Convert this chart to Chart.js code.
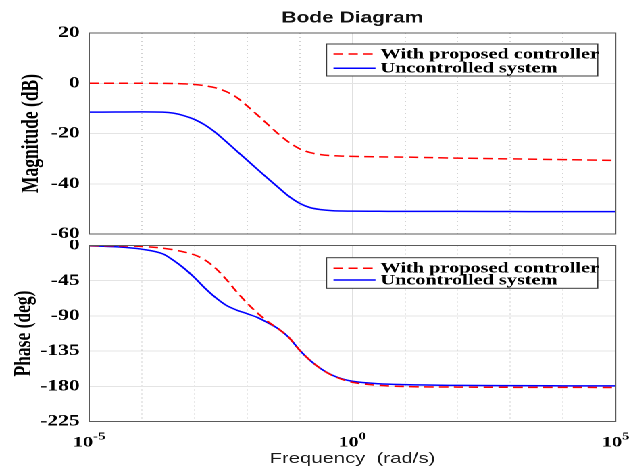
<!DOCTYPE html>
<html><head><meta charset="utf-8">
<script src="https://cdn.jsdelivr.net/npm/chart.js@4/dist/chart.umd.min.js"></script>
<style>
html,body{margin:0;padding:0;background:#fff;width:631px;height:468px;overflow:hidden;}
#wrap{position:absolute;left:0;top:0;width:467px;height:468px;transform:scaleX(1.3512);transform-origin:0 0;}
.box{position:absolute;left:0;width:467px;}
#b1{top:0;height:240px}
#b2{top:240px;height:228px}
</style></head><body>
<div id="wrap"><div class="box" id="b1"><canvas id="c1"></canvas></div><div class="box" id="b2"><canvas id="c2"></canvas></div></div>
<script>
// ---------- data ----------
const seriesNames = ['With proposed controller', 'Uncontrolled system'];

// frequency samples (rad/s) shared by all curves
const freq = [1e-5, 3.16e-5, 1e-4, 2.51e-4, 3.98e-4, 6.31e-4, 1e-3, 1.58e-3, 2.51e-3, 3.98e-3, 6.31e-3,
  1e-2, 1.58e-2, 2.51e-2, 3.98e-2, 6.31e-2, 0.1, 0.158, 0.251, 0.398, 0.631, 1, 3.16, 10, 100, 1e3, 1e4, 1e5];

// Magnitude (dB)
const magCtrl = [0, 0, 0, -0.05, -0.1, -0.25, -0.5, -1.0, -1.8, -3.3, -5.6,
  -9.0, -12.7, -16.5, -20.3, -23.6, -26.1, -27.6, -28.4, -28.8, -29.0, -29.1, -29.3, -29.4, -29.8, -30.1, -30.4, -30.7];
const magUnc = [-11.5, -11.45, -11.4, -11.5, -11.9, -12.9, -14.4, -16.6, -19.6, -23.2, -26.9,
  -30.6, -34.3, -38.0, -41.6, -45.1, -47.8, -49.5, -50.3, -50.7, -50.85, -50.9, -50.95, -51.0, -51.0, -51.05, -51.1, -51.1];

// Phase (deg)
const phCtrl = [-0.2, -0.4, -1.3, -3.4, -5.5, -8.3, -12, -18.5, -29, -43, -59,
  -73.6, -86.5, -97.5, -106.8, -118, -134, -147, -157.5, -165.5, -171, -174.9, -178.8, -180.3, -181.0, -181.3, -181.4, -181.5];
const phUnc = [-0.4, -1.6, -4.7, -10.7, -19, -29, -41, -54.5, -66.5, -76.3, -82.5,
  -87.2, -92.1, -99, -106.8, -118, -134, -147, -157.5, -165.3, -170.5, -173.6, -176.7, -177.8, -178.8, -179.2, -179.4, -179.5];

// ticks
const xGridTicks = [1e-5, 1e-4, 1e-3, 1e-2, 1e-1, 1, 1e1, 1e2, 1e3, 1e4, 1e5];
const xLabelTicks = [1e-5, 1, 1e5];
const xLabelExps = ['-5', '0', '5'];
const magTicks = [20, 0, -20, -40, -60];
const phaseTicks = [0, -45, -90, -135, -180, -225];

// ---------- styling ----------
const serif = "'Liberation Serif', 'Times New Roman', serif";
const sans = "'Liberation Sans', Arial, sans-serif";
const toPts = (xs, ys) => xs.map((x, i) => ({x: x, y: ys[i]}));

function ds(label, xs, ys, color, dash) {
  return {label, data: toPts(xs, ys), borderColor: color, backgroundColor: color,
    borderWidth: 1.5, borderDash: dash, pointRadius: 0, cubicInterpolationMode: 'monotone', fill: false};
}

function xAxis(withTitle) {
  return {
    type: 'logarithmic', min: 1e-5, max: 1e5,
    afterBuildTicks(s) { s.ticks = xGridTicks.map(v => ({value: v})); },
    ticks: {display: false},
    grid: {color: c => (c.tick && c.tick.value === 1) ? '#e0e0e0' : '#d2d2d2', lineWidth: 1, drawTicks: false},
    border: {display: false, dash: c => (c.tick && c.tick.value === 1) ? [] : [1, 3]},
    title: withTitle ? {display: true, text: 'Frequency  (rad/s)', color: '#1a1a1a',
      font: {family: sans, size: 15, weight: 'normal'}, padding: {top: 28.5, bottom: 0}} : {display: false}
  };
}

function yAxis(tickVals, title, titlePad) {
  const mn = Math.min(...tickVals), mx = Math.max(...tickVals);
  return {
    min: mn, max: mx,
    afterBuildTicks(s) { s.ticks = tickVals.slice().sort((a, b) => a - b).map(v => ({value: v})); },
    ticks: {color: '#000', font: {family: serif, weight: 'bold', size: 16}, padding: 7},
    grid: {color: '#e4e4e4', lineWidth: 1, drawTicks: false},
    border: {display: false},
    title: {display: true, text: title, color: '#000', font: {family: serif, weight: 'bold', size: 17.5},
      padding: {top: titlePad, bottom: 0}},
    afterFit(s) { s.width = 66; s.paddingTop = 0; s.paddingBottom = 0; }
  };
}

function legendAndFrame(cfg) {
  return {
    id: 'legendFrame',
    afterDraw(chart) {
      const {ctx, chartArea: a} = chart;
      ctx.save();
      ctx.strokeStyle = '#5a5a5a'; ctx.lineWidth = 1; ctx.setLineDash([]);
      ctx.strokeRect(a.left, a.top, a.right - a.left, a.bottom - a.top);
      const right = a.right - 13.3, left = right - 200.7, top = a.top + cfg.top, h = cfg.h;
      ctx.fillStyle = '#fff'; ctx.fillRect(left, top, right - left, h);
      ctx.strokeStyle = '#3a3a3a'; ctx.strokeRect(left, top, right - left, h);
      chart.data.datasets.forEach((d, i) => {
        const y = top + cfg.rows[i];
        ctx.strokeStyle = d.borderColor; ctx.lineWidth = d.borderWidth; ctx.setLineDash(d.borderDash || []);
        ctx.beginPath(); ctx.moveTo(left + 5.2, y); ctx.lineTo(left + 36.3, y); ctx.stroke();
        ctx.setLineDash([]);
        ctx.fillStyle = '#000'; ctx.font = 'bold 15px ' + serif; ctx.textBaseline = 'middle'; ctx.textAlign = 'left';
        ctx.fillText(d.label, left + 40, y + 0.5);
      });
      ctx.restore();
    }
  };
}

const titleToPlot = {
  id: 'titleToPlot',
  afterLayout(chart) {
    if (chart.titleBlock) { chart.titleBlock.left = chart.chartArea.left; chart.titleBlock.right = chart.chartArea.right; }
  }
};

const xPowerLabels = {
  id: 'xPowerLabels',
  afterDraw(chart) {
    const {ctx, chartArea: a} = chart;
    const xs = chart.scales.x;
    const base = a.bottom + 25;
    ctx.save(); ctx.fillStyle = '#000'; ctx.textBaseline = 'alphabetic'; ctx.textAlign = 'left';
    xLabelTicks.forEach((v, i) => {
      const px = xs.getPixelForValue(v);
      ctx.font = 'bold 15px ' + serif; const w1 = ctx.measureText('10').width;
      ctx.font = 'bold 11px ' + serif; const w2 = ctx.measureText(xLabelExps[i]).width;
      const x0 = px - (w1 + w2) / 2;
      ctx.font = 'bold 15px ' + serif; ctx.fillText('10', x0, base);
      ctx.font = 'bold 11px ' + serif; ctx.fillText(xLabelExps[i], x0 + w1, base - 7);
    });
    ctx.restore();
  }
};

const common = {responsive: true, maintainAspectRatio: false, animation: false, devicePixelRatio: 2,
  events: []};

new Chart(document.getElementById('c1'), {
  type: 'line',
  data: {datasets: [
    ds(seriesNames[0], freq, magCtrl, '#ff0000', [7, 4]),
    ds(seriesNames[1], freq, magUnc, '#0000ff', [])
  ]},
  options: Object.assign({}, common, {
    layout: {padding: {left: 0, right: 11.4, top: 0, bottom: 6}},
    scales: {x: xAxis(false), y: yAxis(magTicks, 'Magnitude (dB)', 13.2)},
    plugins: {
      legend: {display: false}, tooltip: {enabled: false},
      title: {display: true, text: 'Bode Diagram', color: '#111',
        font: {family: sans, weight: 'bold', size: 15.5}, padding: {top: 9, bottom: 5.4}}
    }
  }),
  plugins: [titleToPlot, legendAndFrame({top: 11, h: 32, rows: [10, 24.3]})]
});

new Chart(document.getElementById('c2'), {
  type: 'line',
  data: {datasets: [
    ds(seriesNames[0], freq, phCtrl, '#ff0000', [7, 4]),
    ds(seriesNames[1], freq, phUnc, '#0000ff', [])
  ]},
  options: Object.assign({}, common, {
    layout: {padding: {left: 0, right: 11.4, top: 5.5, bottom: 0}},
    scales: {x: xAxis(true), y: yAxis(phaseTicks, 'Phase (deg)', 7.3)},
    plugins: {legend: {display: false}, tooltip: {enabled: false}, title: {display: false}}
  }),
  plugins: [legendAndFrame({top: 12.2, h: 30.6, rows: [10.6, 22.3]}), xPowerLabels]
});
</script></body></html>
